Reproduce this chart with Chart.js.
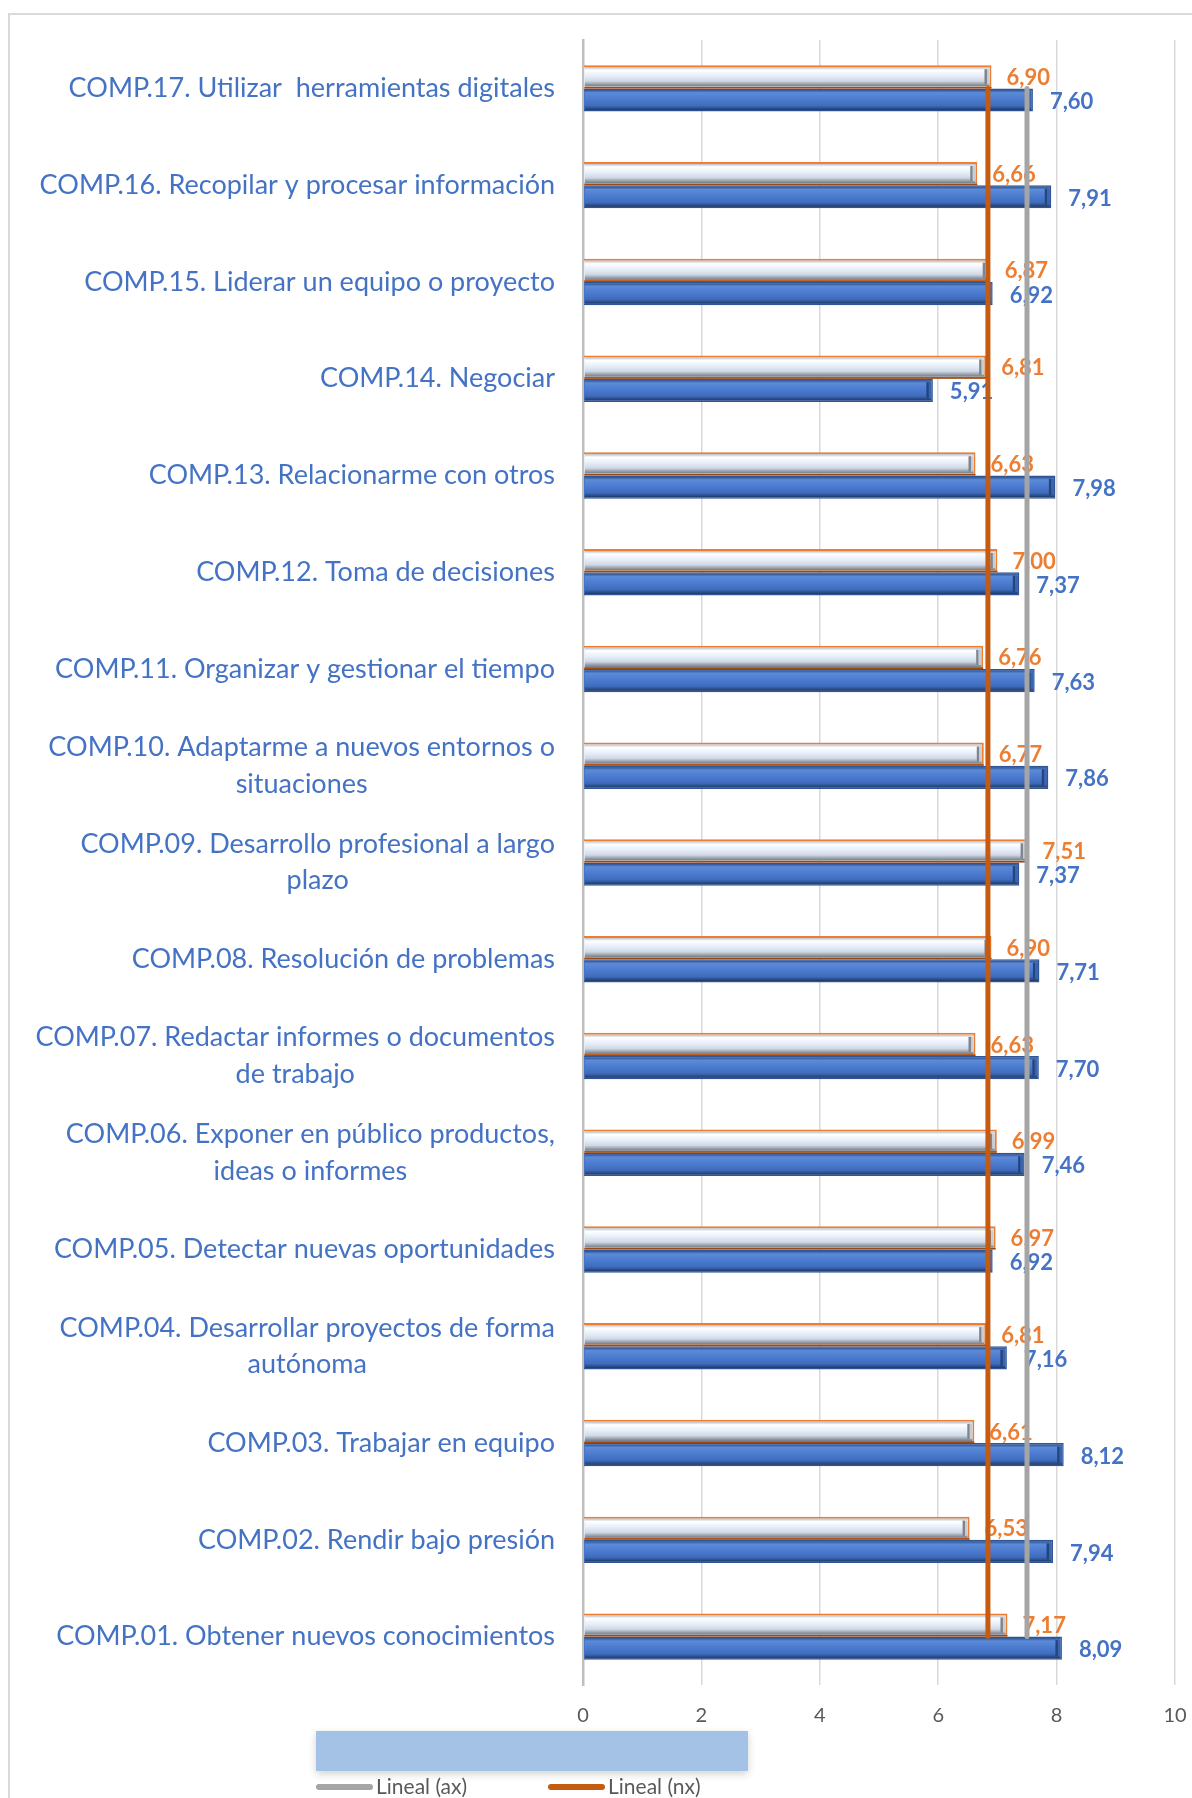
<!DOCTYPE html>
<html>
<head>
<meta charset="utf-8">
<script src="https://cdn.jsdelivr.net/npm/chart.js@4.4.1/dist/chart.umd.min.js"></script>
<style>
  html, body { margin: 0; padding: 0; background: #fff; }
  #wrap { position: relative; width: 1192px; height: 1798px; }
</style>
</head>
<body>
<div id="wrap"><canvas id="grafica" width="1192" height="1798"></canvas></div>
<script>
// categorías, de arriba a abajo como en el gráfico
const categorias = [
  'COMP.17. Utilizar  herramientas digitales',
  'COMP.16. Recopilar y procesar información',
  'COMP.15. Liderar un equipo o proyecto',
  'COMP.14. Negociar',
  'COMP.13. Relacionarme con otros',
  'COMP.12. Toma de decisiones',
  'COMP.11. Organizar y gestionar el tiempo',
  ['COMP.10. Adaptarme a nuevos entornos o', 'situaciones'],
  ['COMP.09. Desarrollo profesional a largo', 'plazo'],
  'COMP.08. Resolución de problemas',
  ['COMP.07. Redactar informes o documentos', 'de trabajo'],
  ['COMP.06. Exponer en público productos,', 'ideas o informes'],
  'COMP.05. Detectar nuevas oportunidades',
  ['COMP.04. Desarrollar proyectos de forma', 'autónoma'],
  'COMP.03. Trabajar en equipo',
  'COMP.02. Rendir bajo presión',
  'COMP.01. Obtener nuevos conocimientos'
];
const valoresNx = [6.90, 6.66, 6.87, 6.81, 6.63, 7.00, 6.76, 6.77, 7.51, 6.90, 6.63, 6.99, 6.97, 6.81, 6.61, 6.53, 7.17];
const valoresAx = [7.60, 7.91, 6.92, 5.91, 7.98, 7.37, 7.63, 7.86, 7.37, 7.71, 7.70, 7.46, 6.92, 7.16, 8.12, 7.94, 8.09];
// líneas de tendencia (inicio y fin)
const tendenciaNx = [6.84, 6.84];
const tendenciaAx = [7.50, 7.50];
const ticksX = [0, 2, 4, 6, 8, 10];

const ultima = categorias.length - 1;

function formato(v) {
  return v.toFixed(2).replace('.', ',');
}

function gradiente(ctx, top, bottom, stops) {
  const g = ctx.createLinearGradient(0, top, 0, bottom);
  stops.forEach(function (s) { g.addColorStop(s[0], s[1]); });
  return g;
}

// marco gris del gráfico
const marco = {
  id: 'marco',
  beforeDraw(chart) {
    const ctx = chart.ctx;
    ctx.save();
    ctx.strokeStyle = '#D9D9D9';
    ctx.lineWidth = 2;
    ctx.strokeRect(9, 14, 1220, 1820);
    ctx.restore();
  }
};

// relieve de las barras y etiquetas de valor
const relieve = {
  id: 'relieve',
  afterDatasetDraw(chart, args) {
    const meta = args.meta;
    if (meta.type !== 'bar') return;
    const ctx = chart.ctx;
    const esNx = args.index === 0;
    ctx.save();
    meta.data.forEach(function (el, i) {
      const p = el.getProps(['x', 'y', 'base', 'height'], true);
      const izq = Math.min(p.x, p.base) + 1;
      const der = Math.max(p.x, p.base);
      const bw = esNx ? 2 : 1.5;
      const top = p.y - p.height / 2 + bw;
      const bot = p.y + p.height / 2 - bw;
      const r = der - bw;
      if (esNx) {
        ctx.fillStyle = gradiente(ctx, top, bot, [
          [0, '#B9BEC6'], [0.15, '#FFFFFF'], [0.45, '#E6EEF9'],
          [0.72, '#CFD8E4'], [0.88, '#98A0AB'], [1, '#747B85']
        ]);
      } else {
        ctx.fillStyle = gradiente(ctx, top, bot, [
          [0, '#2F528F'], [0.14, '#5C8BD9'], [0.5, '#4A79CE'],
          [0.78, '#3F6CBC'], [0.9, '#2E5290'], [1, '#1F3864']
        ]);
      }
      ctx.fillRect(izq, top, r - izq, bot - top);
      // tapa del extremo
      ctx.fillStyle = esNx ? '#7E858F' : '#24447C';
      ctx.fillRect(r - 5, top + 2, 2.5, bot - top - 4);
      ctx.fillStyle = esNx ? '#C8CDD4' : '#3A64AE';
      ctx.fillRect(r - 2.5, top + 2, 2.5, bot - top - 4);
      if (esNx) {
        ctx.strokeStyle = '#9A4A16';
        ctx.lineWidth = 1.5;
        ctx.beginPath();
        ctx.moveTo(izq, p.y + p.height / 2 - 0.75);
        ctx.lineTo(der, p.y + p.height / 2 - 0.75);
        ctx.stroke();
      }
      // etiqueta de valor
      const v = chart.data.datasets[args.index].data[i];
      ctx.font = 'bold 22px Lato';
      ctx.fillStyle = esNx ? '#ED7D31' : '#4472C4';
      ctx.textAlign = 'left';
      ctx.textBaseline = 'middle';
      ctx.fillText(formato(v), der + (esNx ? 15 : 17), p.y + (esNx ? 1 : 2));
    });
    ctx.restore();
  }
};

// etiquetas de categorías: alineadas a la derecha, líneas centradas entre sí
const etiquetasEje = {
  id: 'etiquetasEje',
  afterDraw(chart) {
    const ctx = chart.ctx;
    const ejeY = chart.scales.y;
    const derecha = chart.chartArea.left - 28;
    const alto = 36.5;
    ctx.save();
    ctx.font = '27px Lato';
    ctx.fillStyle = '#4472C4';
    ctx.textAlign = 'center';
    ctx.textBaseline = 'middle';
    categorias.forEach(function (cat, i) {
      const lineas = Array.isArray(cat) ? cat : [cat];
      const ancho = Math.max.apply(null, lineas.map(function (l) { return ctx.measureText(l).width; }));
      const cx = derecha - ancho / 2;
      const y = ejeY.getPixelForTick(i);
      lineas.forEach(function (l, j) {
        ctx.fillText(l, cx, y - (lineas.length - 1) * alto / 2 + j * alto);
      });
    });
    ctx.restore();
  }
};

// leyenda inferior
const leyenda = {
  id: 'leyenda',
  afterDraw(chart) {
    const ctx = chart.ctx;
    ctx.save();
    ctx.shadowColor = 'rgba(0,0,0,0.18)';
    ctx.shadowBlur = 8;
    ctx.shadowOffsetY = 3;
    ctx.fillStyle = '#A4C2E6';
    ctx.fillRect(316, 1731, 432, 40);
    ctx.restore();
    const items = [chart.data.datasets[3], chart.data.datasets[2]];
    const xs = [316, 548];
    ctx.save();
    ctx.font = '21px Lato';
    ctx.textBaseline = 'middle';
    ctx.textAlign = 'left';
    items.forEach(function (ds, k) {
      ctx.strokeStyle = ds.borderColor;
      ctx.lineWidth = 6;
      ctx.lineCap = 'round';
      ctx.beginPath();
      ctx.moveTo(xs[k] + 3, 1787);
      ctx.lineTo(xs[k] + 54, 1787);
      ctx.stroke();
      ctx.fillStyle = '#595959';
      ctx.fillText(ds.label, xs[k] + 60, 1787);
    });
    ctx.restore();
  }
};

const ctxBar = document.getElementById('grafica').getContext('2d');
const grafica = new Chart(ctxBar, {
  type: 'bar',
  data: {
    labels: categorias,
    datasets: [
      {
        label: 'nx',
        data: valoresNx,
        backgroundColor: '#E6EDF6',
        borderColor: '#ED7D31',
        borderWidth: 2,
        categoryPercentage: 0.48,
        barPercentage: 1.0,
        order: 1
      },
      {
        label: 'ax',
        data: valoresAx,
        backgroundColor: '#4472C4',
        borderColor: '#2F5597',
        borderWidth: 1.5,
        categoryPercentage: 0.48,
        barPercentage: 1.0,
        order: 1
      },
      {
        type: 'line',
        label: 'Lineal (nx)',
        data: [{ x: tendenciaNx[0], y: categorias[0] }, { x: tendenciaNx[1], y: categorias[ultima] }],
        borderColor: '#C55A11',
        borderWidth: 5,
        borderCapStyle: 'round',
        pointRadius: 0,
        order: 0
      },
      {
        type: 'line',
        label: 'Lineal (ax)',
        data: [{ x: tendenciaAx[0], y: categorias[0] }, { x: tendenciaAx[1], y: categorias[ultima] }],
        borderColor: '#A5A5A5',
        borderWidth: 5,
        borderCapStyle: 'round',
        pointRadius: 0,
        order: 0
      }
    ]
  },
  options: {
    indexAxis: 'y',
    responsive: false,
    animation: false,
    layout: {
      padding: { top: 40, bottom: 66, left: 583, right: 17 }
    },
    scales: {
      x: {
        min: ticksX[0],
        max: ticksX[ticksX.length - 1],
        ticks: {
          stepSize: ticksX[1] - ticksX[0],
          color: '#595959',
          font: { family: 'Lato', size: 20 },
          padding: 4
        },
        grid: { color: '#D9D9D9', lineWidth: 1.5, drawTicks: true, tickLength: 15, tickColor: 'rgba(0,0,0,0)' },
        border: { display: false }
      },
      y: {
        ticks: { display: false },
        grid: { display: false, drawTicks: false },
        border: { display: true, color: '#BFBFBF', width: 2.5 }
      }
    },
    plugins: {
      legend: { display: false },
      tooltip: { enabled: false },
      title: { display: false }
    }
  },
  plugins: [marco, relieve, etiquetasEje, leyenda]
});
</script>
</body>
</html>
